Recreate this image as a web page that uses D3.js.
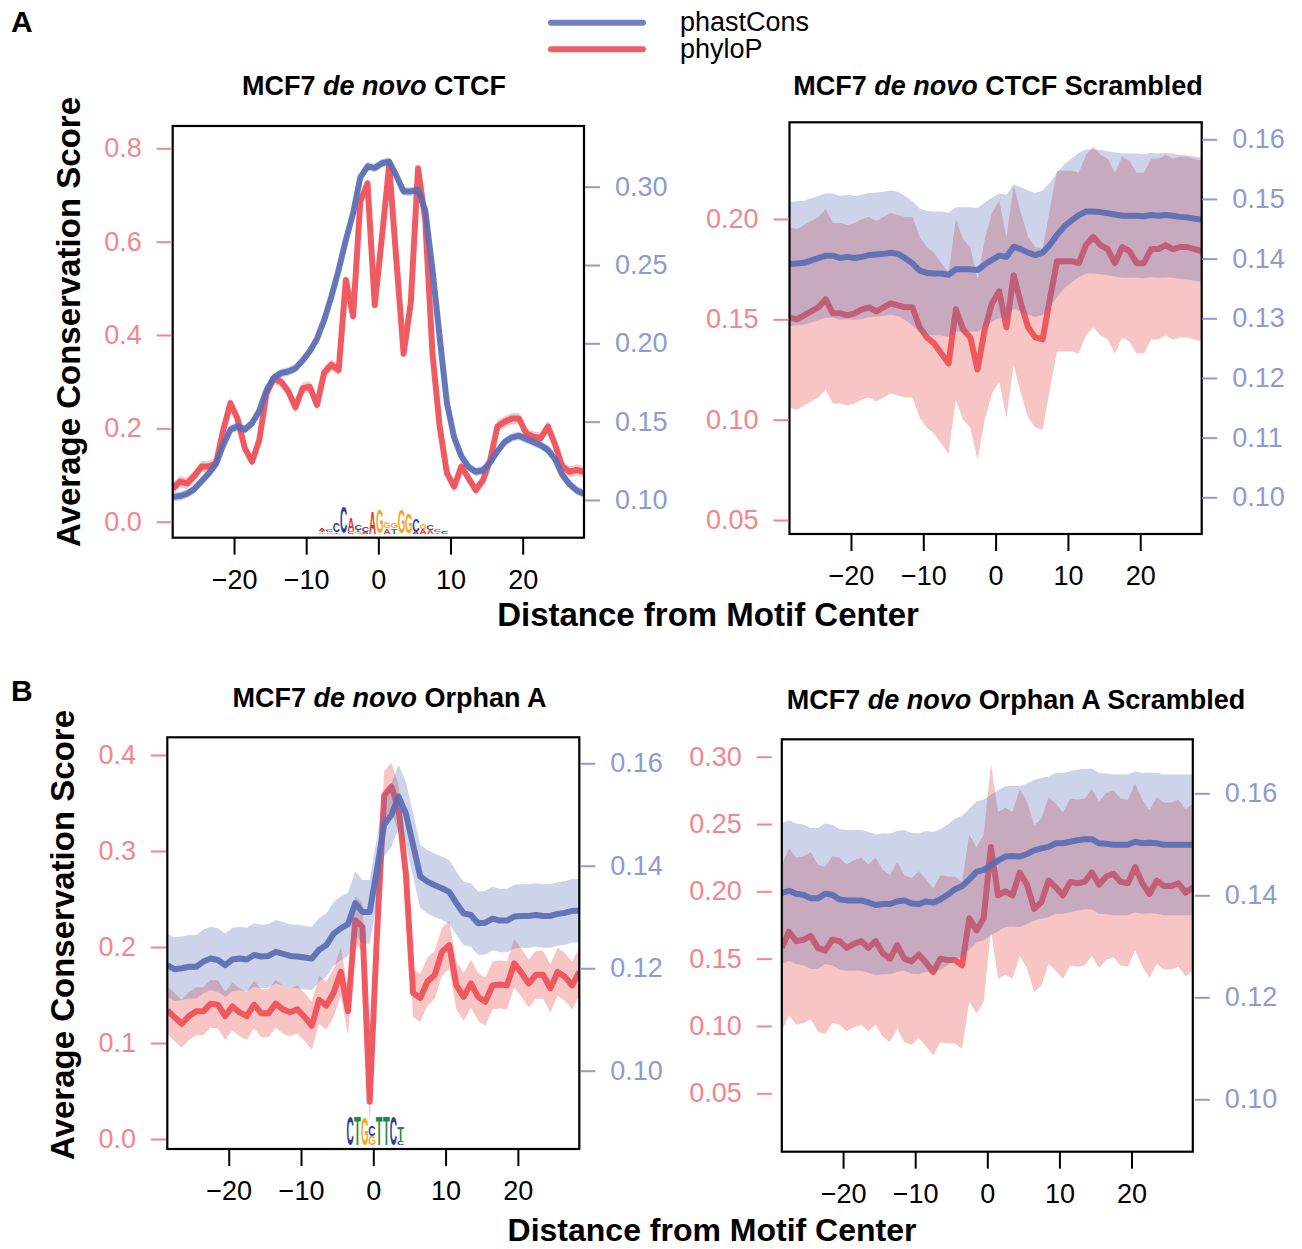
<!DOCTYPE html>
<html>
<head>
<meta charset="utf-8">
<script src="https://cdn.jsdelivr.net/npm/d3@7"></script>
<style>
body { margin: 0; background: #fff; }
svg { display: block; font-family: "Liberation Sans", Arial, Helvetica, sans-serif; }
</style>
</head>
<body>
<svg id="fig" width="1302" height="1249"></svg>
<script>
// posiciones respecto al centro del motivo
var distance = [-28.5,-27.5,-26.5,-25.5,-24.5,-23.5,-22.5,-21.5,-20.5,-19.5,-18.5,-17.5,-16.5,-15.5,-14.5,-13.5,-12.5,-11.5,-10.5,-9.5,
  -8.5,-7.5,-6.5,-5.5,-4.5,-3.5,-2.5,-1.5,-0.5,0.5,1.5,2.5,3.5,4.5,5.5,6.5,7.5,8.5,9.5,10.5,
  11.5,12.5,13.5,14.5,15.5,16.5,17.5,18.5,19.5,20.5,21.5,22.5,23.5,24.5,25.5,26.5,27.5,28.5];

// A: CTCF
var ctcfPhyloP = [0.071,0.086,0.082,0.098,0.118,0.118,0.125,0.196,0.254,0.220,0.157,0.129,0.175,0.275,0.307,0.300,0.280,0.245,0.286,0.289,
  0.250,0.320,0.336,0.325,0.518,0.440,0.686,0.725,0.464,0.610,0.764,0.560,0.360,0.470,0.757,0.646,0.360,0.204,0.104,0.075,
  0.118,0.093,0.068,0.089,0.132,0.204,0.214,0.221,0.221,0.189,0.182,0.179,0.204,0.165,0.118,0.107,0.111,0.107];
var ctcfPhastCons = [0.102,0.1025,0.104,0.107,0.112,0.117,0.123,0.135,0.145,0.147,0.145,0.149,0.157,0.170,0.178,0.181,0.182,0.184,0.189,0.195,
  0.203,0.215,0.230,0.247,0.266,0.283,0.306,0.313,0.312,0.315,0.316,0.307,0.297,0.297,0.298,0.285,0.247,0.204,0.162,0.140,
  0.128,0.121,0.118,0.119,0.124,0.131,0.137,0.140,0.141,0.139,0.137,0.135,0.132,0.126,0.116,0.110,0.106,0.104];
var ctcfPhyloPErr = 0.012, ctcfPhastConsErr = 0.0028;

var ctcfScrPhyloP = [0.151,0.150,0.152,0.154,0.156,0.160,0.153,0.153,0.152,0.153,0.155,0.156,0.154,0.156,0.158,0.157,0.156,0.156,0.146,0.141,
  0.138,0.133,0.128,0.155,0.145,0.141,0.125,0.145,0.158,0.164,0.146,0.172,0.158,0.146,0.141,0.140,0.160,0.179,0.179,0.179,
  0.178,0.187,0.191,0.187,0.185,0.178,0.186,0.184,0.178,0.178,0.185,0.185,0.187,0.185,0.186,0.186,0.185,0.184];
var ctcfScrPhastCons = [0.1391,0.1392,0.1393,0.1397,0.1401,0.1405,0.1405,0.1401,0.1403,0.1401,0.1403,0.1406,0.1407,0.1408,0.1410,0.1408,0.1401,0.1392,0.1380,0.1376,
  0.1375,0.1375,0.1373,0.1382,0.1382,0.1382,0.1381,0.1390,0.1398,0.1405,0.1403,0.1420,0.1416,0.1410,0.1406,0.1410,0.1423,0.1440,0.1454,0.1464,
  0.1473,0.1479,0.1479,0.1478,0.1476,0.1474,0.1472,0.1472,0.1472,0.1471,0.1473,0.1472,0.1473,0.1472,0.1470,0.1469,0.1467,0.1465];
var ctcfScrPhyloPErr = 0.045, ctcfScrPhastConsErr = 0.0104;

// B: Orphan A
var orphPhyloP = [0.134,0.127,0.120,0.128,0.133,0.133,0.141,0.140,0.128,0.138,0.132,0.128,0.140,0.131,0.131,0.141,0.135,0.132,0.135,0.127,
  0.118,0.145,0.139,0.152,0.174,0.133,0.228,0.221,0.039,0.211,0.358,0.367,0.344,0.277,0.152,0.147,0.164,0.171,0.195,0.202,
  0.160,0.148,0.162,0.148,0.143,0.160,0.161,0.160,0.183,0.173,0.162,0.171,0.171,0.157,0.174,0.169,0.160,0.174];
var orphPhastCons = [0.1206,0.1198,0.1200,0.1203,0.1203,0.1213,0.1219,0.1216,0.1206,0.1217,0.1219,0.1217,0.1226,0.1223,0.1224,0.1232,0.1228,0.1224,0.1223,0.1221,
  0.1219,0.1236,0.1245,0.1267,0.1278,0.1286,0.1327,0.1310,0.1310,0.1392,0.1480,0.1499,0.1535,0.1502,0.1441,0.1379,0.1369,0.1362,0.1356,0.1349,
  0.1327,0.1307,0.1304,0.1288,0.1289,0.1297,0.1293,0.1293,0.1301,0.1302,0.1302,0.1304,0.1302,0.1302,0.1306,0.1308,0.1312,0.1312];
var orphPhyloPErr = 0.025, orphPhastConsErr = 0.0062;

var orphScrPhyloP = [0.158,0.170,0.163,0.164,0.167,0.158,0.156,0.164,0.163,0.158,0.161,0.163,0.158,0.163,0.154,0.150,0.160,0.150,0.148,0.153,
  0.147,0.140,0.150,0.149,0.149,0.145,0.180,0.171,0.180,0.233,0.197,0.200,0.197,0.214,0.205,0.187,0.192,0.208,0.203,0.197,
  0.207,0.206,0.207,0.214,0.205,0.211,0.213,0.207,0.206,0.218,0.206,0.198,0.208,0.204,0.204,0.206,0.199,0.203];
var orphScrPhastCons = [0.1404,0.1409,0.1403,0.1401,0.1394,0.1394,0.1403,0.1401,0.1392,0.1390,0.1390,0.1390,0.1386,0.1381,0.1383,0.1383,0.1388,0.1390,0.1384,0.1383,
  0.1388,0.1386,0.1392,0.1401,0.1412,0.1418,0.1431,0.1446,0.1450,0.1459,0.1468,0.1476,0.1477,0.1476,0.1481,0.1488,0.1492,0.1495,0.1502,0.1502,
  0.1505,0.1508,0.1510,0.1510,0.1502,0.1501,0.1499,0.1499,0.1499,0.1505,0.1502,0.1503,0.1502,0.1499,0.1499,0.1499,0.1499,0.1499];
var orphScrPhyloPErr = 0.062, orphScrPhastConsErr = 0.0138;

// marcas de los ejes
var xTicks = [-20, -10, 0, 10, 20];
var ctcfLeftTicks = [0, 0.2, 0.4, 0.6, 0.8];
var ctcfRightTicks = [0.10, 0.15, 0.20, 0.25, 0.30];
var ctcfScrLeftTicks = [0.05, 0.10, 0.15, 0.20];
var ctcfScrRightTicks = [0.10, 0.11, 0.12, 0.13, 0.14, 0.15, 0.16];
var orphLeftTicks = [0, 0.1, 0.2, 0.3, 0.4];
var orphRightTicks = [0.10, 0.12, 0.14, 0.16];
var orphScrLeftTicks = [0.05, 0.10, 0.15, 0.20, 0.25, 0.30];
var orphScrRightTicks = [0.10, 0.12, 0.14, 0.16];

// logos (columnas de abajo a arriba: letra, bits)
var ctcfLogo = [
  [['G',0.1],['T',0.1],['A',0.15]], [['A',0.1],['C',0.15],['G',0.1]], [['T',0.08],['C',0.6]], [['C',1.7]],
  [['C',0.15],['A',0.85]], [['G',0.12],['T',0.12],['C',0.35]], [['A',0.12],['C',0.35]], [['A',1.45]],
  [['G',1.5]], [['A',0.35],['G',0.33],['G',0.1]], [['T',0.35],['G',0.3]], [['G',1.5]], [['G',1.3]],
  [['A',0.12],['C',0.8]], [['A',0.3],['G',0.3]], [['A',0.25],['C',0.3]], [['T',0.1],['C',0.2]], [['C',0.12],['T',0.08]]
];
var orphLogo = [
  [['C',1.85]], [['T',1.85]], [['G',1.8]], [['G',0.55],['C',0.7]], [['T',1.85]], [['T',1.85]], [['C',1.85]], [['C',0.25],['T',0.9]]
];

var series = ['phastCons', 'phyloP'];

var redCol = '#ee4e56', blueCol = '#5a6cb4';
var redAxis = '#f2878a', blueAxis = '#8c9bd3';
var logoCol = { A: '#dc3a2c', C: '#2f3c9e', G: '#f3a81f', T: '#1e8c3e' };

var panels = [
  { title: ['MCF7 ', 'de novo', ' CTCF'], tx: 374, ty: 95,
    phyloP: ctcfPhyloP, phast: ctcfPhastCons, errP: ctcfPhyloPErr, errC: ctcfPhastConsErr,
    box: [172.7, 126, 584, 537.7],
    yL: { dom: [0, 0.8], rng: [521.7, 148.3], ticks: ctcfLeftTicks, fmt: '.1f', gap: 1 },
    yR: { dom: [0.10, 0.30], rng: [500, 186.7], ticks: ctcfRightTicks, fmt: '.2f', gap: 1 },
    logo: ctcfLogo, logoStart: -8.3 },
  { title: ['MCF7 ', 'de novo', ' CTCF Scrambled'], tx: 998, ty: 95,
    phyloP: ctcfScrPhyloP, phast: ctcfScrPhastCons, errP: ctcfScrPhyloPErr, errC: ctcfScrPhastConsErr,
    box: [789.5, 122.3, 1201.7, 534],
    yL: { dom: [0.05, 0.20], rng: [520, 219], ticks: ctcfScrLeftTicks, fmt: '.2f', gap: 1 },
    yR: { dom: [0.10, 0.16], rng: [497.3, 139.3], ticks: ctcfScrRightTicks, fmt: '.2f', gap: 0.5 } },
  { title: ['MCF7 ', 'de novo', ' Orphan A'], tx: 389.5, ty: 707,
    phyloP: orphPhyloP, phast: orphPhastCons, errP: orphPhyloPErr, errC: orphPhastConsErr,
    box: [167.3, 737.3, 579.3, 1149],
    yL: { dom: [0, 0.4], rng: [1139, 755], ticks: orphLeftTicks, fmt: '.1f', gap: 1.3 },
    yR: { dom: [0.10, 0.16], rng: [1070.7, 763.3], ticks: orphRightTicks, fmt: '.2f', gap: 1 },
    logo: orphLogo, logoStart: -3.7 },
  { title: ['MCF7 ', 'de novo', ' Orphan A Scrambled'], tx: 1016, ty: 709,
    phyloP: orphScrPhyloP, phast: orphScrPhastCons, errP: orphScrPhyloPErr, errC: orphScrPhastConsErr,
    box: [781.8, 739.3, 1192.8, 1151.7],
    yL: { dom: [0.05, 0.30], rng: [1093.3, 756.7], ticks: orphScrLeftTicks, fmt: '.2f', gap: 10 },
    yR: { dom: [0.10, 0.16], rng: [1099.3, 793.3], ticks: orphScrRightTicks, fmt: '.2f', gap: 2 } }
];

var svg = d3.select('#fig');
var defs = svg.append('defs');

// medidas de tinta de las letras del logo
var ctx = document.createElement('canvas').getContext('2d');
ctx.font = 'bold 100px "Liberation Sans"';
var glyph = {};
['A', 'C', 'G', 'T'].forEach(function(l) {
  var m = ctx.measureText(l);
  glyph[l] = { left: m.actualBoundingBoxLeft, right: m.actualBoundingBoxRight,
               asc: m.actualBoundingBoxAscent, desc: m.actualBoundingBoxDescent };
});
var pxPerBit = 15.5;

function minusFmt(d) { return d < 0 ? '\u2212' + Math.abs(d) : String(d); }

panels.forEach(function(p, k) {
  var b = p.box;
  var x = d3.scaleLinear().domain([-28.5, 28.5]).range([b[0], b[2]]);
  var yL = d3.scaleLinear().domain(p.yL.dom).range(p.yL.rng);
  var yR = d3.scaleLinear().domain(p.yR.dom).range(p.yR.rng);
  var g = svg.append('g');

  defs.append('clipPath').attr('id', 'clip' + k)
    .append('rect').attr('x', b[0]).attr('y', b[1]).attr('width', b[2] - b[0]).attr('height', b[3] - b[1]);
  var plot = g.append('g').attr('clip-path', 'url(#clip' + k + ')');

  // logo del motivo
  if (p.logo) {
    var base = b[3] - 4;
    p.logo.forEach(function(col, c) {
      var cx0 = x(p.logoStart + c) + 0.3;
      var cw = x(p.logoStart + c + 1) - x(p.logoStart + c) - 0.6;
      var bottom = base;
      col.forEach(function(item) {
        var l = item[0], h = item[1] * pxPerBit, gm = glyph[l];
        var sx = cw / (gm.left + gm.right), sy = h / (gm.asc + gm.desc);
        plot.append('text')
          .attr('transform', 'translate(' + (cx0 + gm.left * sx) + ',' + (bottom - gm.desc * sy) + ') scale(' + sx + ',' + sy + ')')
          .style('font-size', '100px').style('font-weight', 'bold')
          .attr('fill', logoCol[l]).text(l);
        bottom -= h;
      });
    });
  }

  var rows = distance.map(function(d, i) { return { x: d, p: p.phyloP[i], c: p.phast[i] }; });

  plot.append('path').datum(rows)
    .attr('d', d3.area().x(function(d) { return x(d.x); })
      .y0(function(d) { return yL(d.p - p.errP); })
      .y1(function(d) { return yL(d.p + p.errP); }))
    .attr('fill', '#f08080').attr('fill-opacity', 0.46);
  plot.append('path').datum(rows)
    .attr('d', d3.line().x(function(d) { return x(d.x); }).y(function(d) { return yL(d.p); }))
    .attr('fill', 'none').attr('stroke', redCol).attr('stroke-width', 6)
    .attr('stroke-linejoin', 'round').attr('stroke-opacity', 0.92);

  plot.append('path').datum(rows)
    .attr('d', d3.area().x(function(d) { return x(d.x); })
      .y0(function(d) { return yR(d.c - p.errC); })
      .y1(function(d) { return yR(d.c + p.errC); }))
    .attr('fill', '#5a6eb4').attr('fill-opacity', 0.30);
  plot.append('path').datum(rows)
    .attr('d', d3.line().x(function(d) { return x(d.x); }).y(function(d) { return yR(d.c); }))
    .attr('fill', 'none').attr('stroke', blueCol).attr('stroke-width', 6)
    .attr('stroke-linejoin', 'round').attr('stroke-opacity', 0.92);

  g.append('rect').attr('x', b[0]).attr('y', b[1]).attr('width', b[2] - b[0]).attr('height', b[3] - b[1])
    .attr('fill', 'none').attr('stroke', '#000').attr('stroke-width', 2.2);

  // ejes
  var ax = g.append('g').attr('transform', 'translate(0,' + b[3] + ')')
    .call(d3.axisBottom(x).tickValues(xTicks).tickSize(17).tickPadding(15).tickFormat(minusFmt));
  ax.select('.domain').remove();
  ax.selectAll('line').attr('stroke', '#000').attr('stroke-width', 2);
  ax.selectAll('text').attr('fill', '#000').style('font-size', '27px');

  var al = g.append('g').attr('transform', 'translate(' + (b[0] - p.yL.gap) + ',0)')
    .call(d3.axisLeft(yL).tickValues(p.yL.ticks).tickSize(15).tickPadding(15).tickFormat(d3.format(p.yL.fmt)));
  al.select('.domain').remove();
  al.selectAll('line').attr('stroke', redAxis).attr('stroke-width', 2);
  al.selectAll('text').attr('fill', redAxis).style('font-size', '27px');

  var ar = g.append('g').attr('transform', 'translate(' + (b[2] + p.yR.gap) + ',0)')
    .call(d3.axisRight(yR).tickValues(p.yR.ticks).tickSize(15).tickPadding(15).tickFormat(d3.format(p.yR.fmt)));
  ar.select('.domain').remove();
  ar.selectAll('line').attr('stroke', blueAxis).attr('stroke-width', 2);
  ar.selectAll('text').attr('fill', blueAxis).style('font-size', '27px');

  var t = g.append('text').attr('x', p.tx).attr('y', p.ty).attr('text-anchor', 'middle')
    .style('font-size', '27px').style('font-weight', 'bold');
  t.append('tspan').text(p.title[0]);
  t.append('tspan').style('font-style', 'italic').text(p.title[1]);
  t.append('tspan').text(p.title[2]);
});

// títulos de ejes
[[68, 322], [62, 935]].forEach(function(c) {
  svg.append('text').attr('transform', 'translate(' + c[0] + ',' + c[1] + ') rotate(-90)')
    .attr('text-anchor', 'middle').attr('dy', '0.35em')
    .style('font-size', '33px').style('font-weight', 'bold').text('Average Conservation Score');
});
[[708, 614, 33], [712, 1230, 32]].forEach(function(c) {
  svg.append('text').attr('x', c[0]).attr('y', c[1]).attr('dy', '0.35em').attr('text-anchor', 'middle')
    .style('font-size', c[2] + 'px').style('font-weight', 'bold').text('Distance from Motif Center');
});

svg.append('text').attr('x', 11).attr('y', 32).style('font-size', '30px').style('font-weight', 'bold').text('A');
svg.append('text').attr('x', 11).attr('y', 701).style('font-size', '30px').style('font-weight', 'bold').text('B');

// leyenda
var legendCols = ['#6f80c4', '#ee6066'];
var legend = svg.append('g');
series.forEach(function(s, i) {
  var yy = 22.7 + i * 26.6;
  legend.append('line').attr('x1', 551).attr('x2', 643).attr('y1', yy).attr('y2', yy)
    .attr('stroke', legendCols[i]).attr('stroke-width', 6).attr('stroke-linecap', 'round');
  legend.append('text').attr('x', 680).attr('y', yy + 8.5).style('font-size', '27px').text(s);
});
</script>
</body>
</html>
